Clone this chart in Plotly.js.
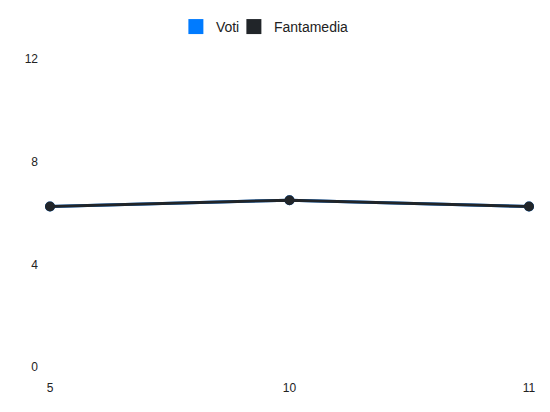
<!DOCTYPE html>
<html>
<head>
<meta charset="utf-8">
<script src="https://cdn.plot.ly/plotly-3.0.1.min.js"></script>
<style>
  html, body { margin: 0; padding: 0; background: #fff; }
  #chart { width: 550px; height: 412px; }
</style>
</head>
<body>
<div id="chart"></div>
<script>
// giornate and ratings
const giornate = ['5', '10', '11'];
const voti = [6.25, 6.5, 6.25];
const fantamedia = [6.25, 6.5, 6.25];
const yTicks = [0, 4, 8, 12];

const blue = '#007bff', dark = '#212529';

function lineTrace(name, values, color) {
    return {
        x: giornate,
        y: values,
        name: name,
        type: 'scatter',
        mode: 'lines+markers',
        line: { color: color, width: 3 },
        marker: { color: color, size: 10 },
        cliponaxis: false,
        showlegend: false,
        hoverinfo: 'x+y'
    };
}

// square legend keys, plotted on a hidden axis so nothing shows in the plot
function legendTrace(name, values, color, entryWidth) {
    return {
        x: giornate,
        y: values,
        name: name,
        type: 'scatter',
        mode: 'markers',
        marker: { color: color, size: 15, symbol: 'square' },
        legendwidth: entryWidth,
        xaxis: 'x2',
        yaxis: 'y2',
        hoverinfo: 'skip'
    };
}

const data = [
    lineTrace('Voti', voti, blue),
    lineTrace('Fantamedia', fantamedia, dark),
    legendTrace('Voti', voti, blue, 13),
    legendTrace('Fantamedia', fantamedia, dark)
];

const layout = {
    width: 550,
    height: 412,
    margin: { l: 50, r: 21, t: 59, b: 45, autoexpand: false },
    paper_bgcolor: '#fff',
    plot_bgcolor: '#fff',
    font: { family: 'Liberation Sans, Arial, sans-serif', size: 12, color: '#222' },
    showlegend: true,
    legend: {
        orientation: 'h',
        x: 0.2628, xanchor: 'left',
        y: 1.104, yanchor: 'middle',
        font: { size: 14, color: '#222' }
    },
    xaxis: {
        type: 'category',
        range: [0, giornate.length - 1],
        showgrid: false,
        zeroline: false,
        showline: false,
        ticks: '',
        ticklabelstandoff: 12,
        tickfont: { size: 12, color: '#222' },
        fixedrange: true
    },
    yaxis: {
        range: [0, 12],
        tickvals: yTicks,
        showgrid: false,
        zeroline: false,
        showline: false,
        ticks: '',
        ticklabelstandoff: 11,
        tickfont: { size: 12, color: '#222' },
        fixedrange: true
    },
    xaxis2: { overlaying: 'x', visible: false, range: [100, 101] },
    yaxis2: { overlaying: 'y', visible: false, range: [100, 101] }
};

Plotly.newPlot('chart', data, layout, { displayModeBar: false, staticPlot: true });
</script>
</body>
</html>
